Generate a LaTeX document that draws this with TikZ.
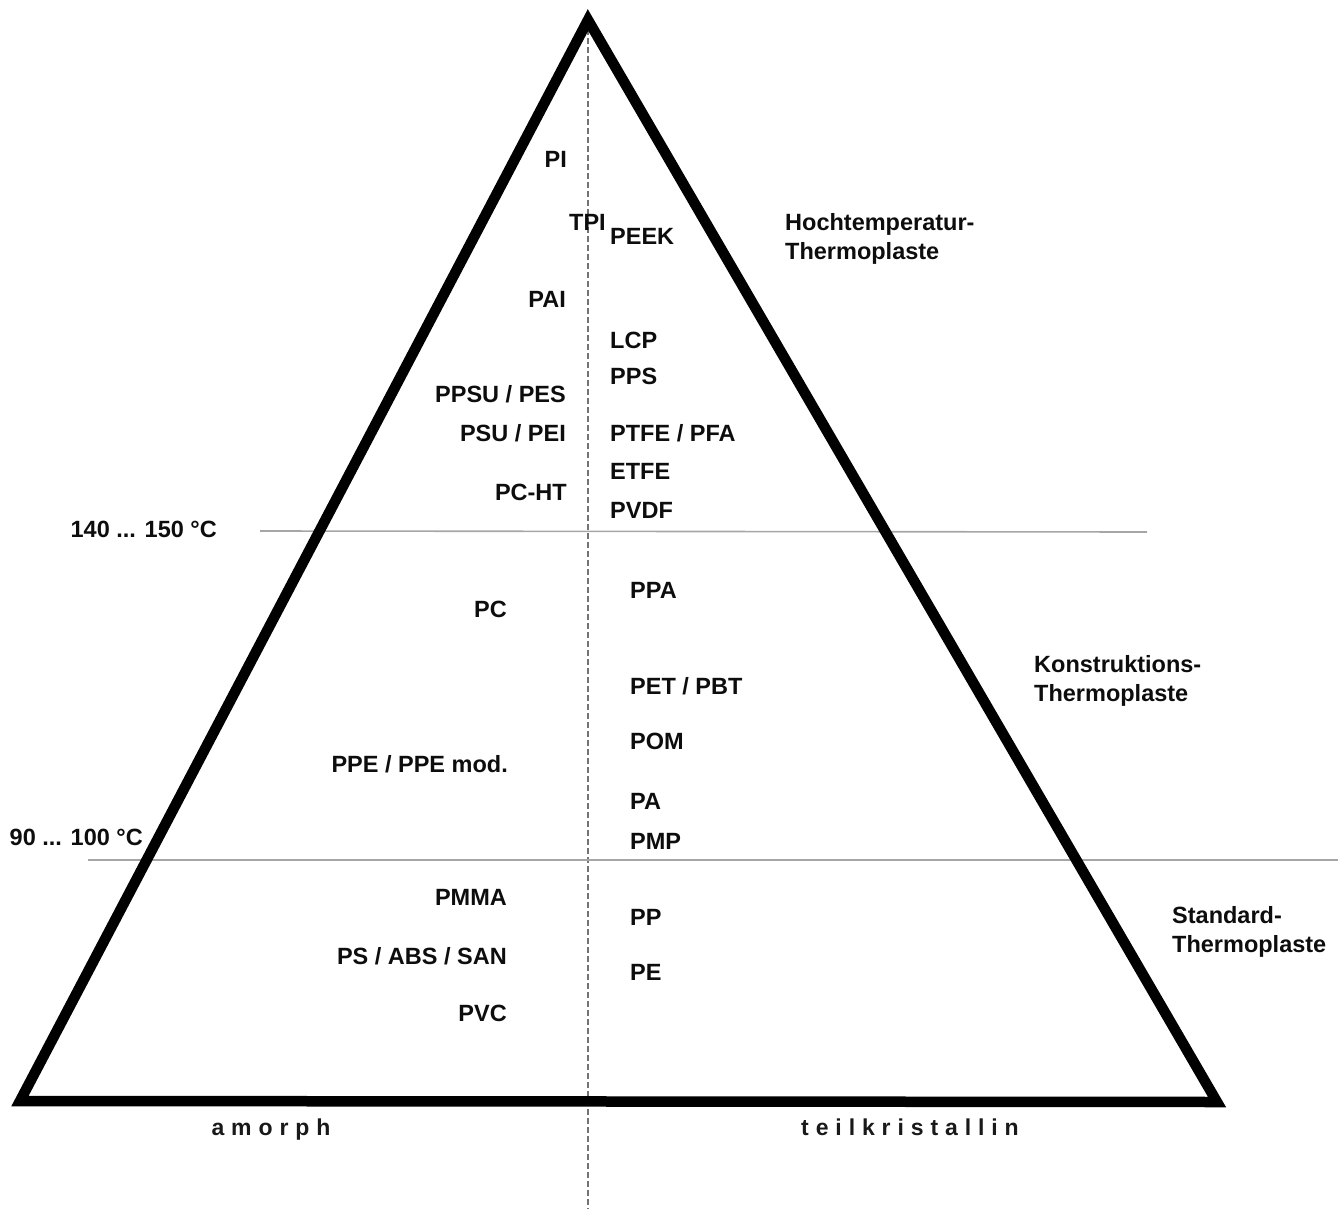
\documentclass[tikz,border=0pt]{standalone}
\usepackage{fontspec}
\setmainfont{Liberation Sans}
\begin{document}
\begin{tikzpicture}[x=1pt,y=-1pt,
  lbl/.style={font=\fontsize{23.5}{29}\selectfont\bfseries, text=black!95, inner sep=0pt},
  lw/.style={lbl, anchor=base west},
  le/.style={lbl, anchor=base east},
  grp/.style={lbl, anchor=north west, align=left},
  axis/.style={font=\fontsize{23}{26}\selectfont\bfseries\addfontfeature{LetterSpace=30}, text=black!90, inner sep=0pt, anchor=base},
  tri/.style={line width=10.5pt, line join=miter, black},
  level/.style={line width=1.6pt, black!35},
  mid/.style={line width=1.3pt, black!55, dash pattern=on 6pt off 3pt}
]
\useasboundingbox (0,0) rectangle (1344,1209);
% corners
\coordinate (apex) at (588,20);
\coordinate (bl) at (20,1101);
\coordinate (br) at (1217,1102);
\coordinate (midbot) at (588,1209);
% level lines
\coordinate (l1a) at (260,531);
\coordinate (l1b) at (1147,532);
\coordinate (l2a) at (88,860);
\coordinate (l2b) at (1338,860);
\draw[mid] (apex) -- (midbot);
\draw[level] (l1a) -- (l1b);
\draw[level] (l2a) -- (l2b);
\draw[tri] (apex) -- (br) -- (bl) -- cycle;

% left column (upper)
\node[le] (pi) at (567,168) {PI};
\node[lw] (tpi) at (569,230) {TPI};
\node[le] (pai) at (566,307) {PAI};
\node[le] (ppsu) at (566,402) {PPSU / PES};
\node[le] (psu) at (566,441) {PSU / PEI};
\node[le] (pcht) at (567,500) {PC-HT};
% right column (upper)
\node[lw] (peek) at (610,244) {PEEK};
\node[lw] (lcp) at (610,348) {LCP};
\node[lw] (pps) at (610,384) {PPS};
\node[lw] (ptfe) at (610,441) {PTFE / PFA};
\node[lw] (etfe) at (610,479) {ETFE};
\node[lw] (pvdf) at (610,518) {PVDF};
% left column (lower)
\node[le] (pc) at (507,617) {PC};
\node[le] (ppe) at (508,772) {PPE / PPE mod.};
\node[le] (pmma) at (507,905) {PMMA};
\node[le] (ps) at (507,964) {PS / ABS / SAN};
\node[le] (pvc) at (507,1021) {PVC};
% right column (lower)
\node[lw] (ppa) at (630,598) {PPA};
\node[lw] (pet) at (630,694) {PET / PBT};
\node[lw] (pom) at (630,749) {POM};
\node[lw] (pa) at (630,809) {PA};
\node[lw] (pmp) at (630,849) {PMP};
\node[lw] (pp) at (630,925) {PP};
\node[lw] (pe) at (630,980) {PE};
% temperature labels
\node[le] (t1) at (217,537) {140 ... 150 °C};
\node[le] (t2) at (143,845) {90 ... 100 °C};
% group labels
\node[grp] (g1) at (785,213) {Hochtemperatur-\\Thermoplaste};
\node[grp] (g2) at (1034,655) {Konstruktions-\\Thermoplaste};
\node[grp] (g3) at (1172,906) {Standard-\\Thermoplaste};
% axis labels
\node[axis] (am) at (271,1135) {amorph};
\node[axis] (tk) at (910,1135) {teilkristallin};
\end{tikzpicture}
\end{document}
